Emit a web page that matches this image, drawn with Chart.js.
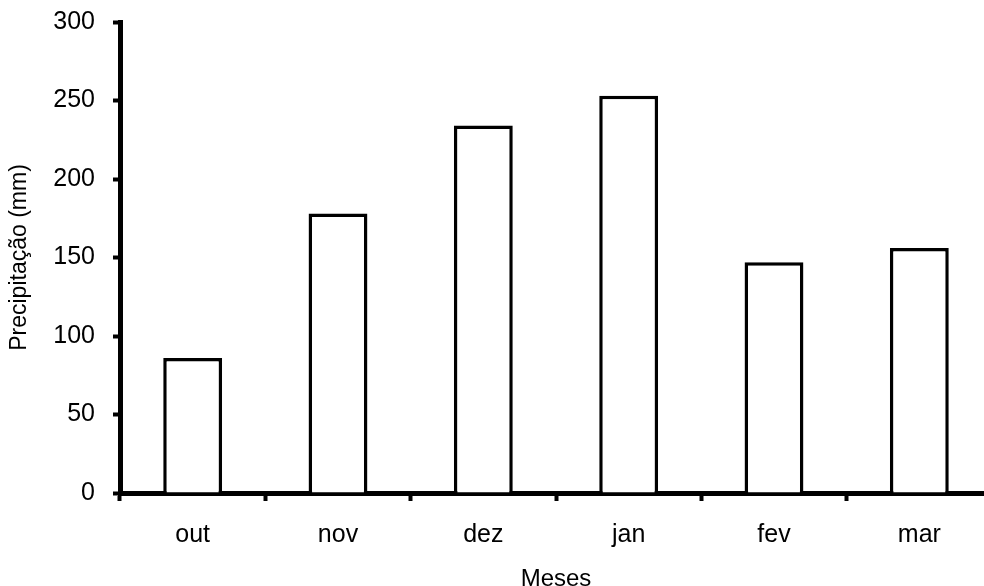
<!DOCTYPE html>
<html>
<head>
<meta charset="utf-8">
<script src="https://cdn.jsdelivr.net/npm/chart.js@4/dist/chart.umd.min.js"></script>
<style>
  html, body { margin: 0; padding: 0; background: #fff; overflow: hidden; width: 984px; height: 586px; }
  #wrap { width: 992px; height: 586px; }
</style>
</head>
<body>
<div id="wrap"><canvas id="c" width="992" height="586"></canvas></div>
<script>
const categories = ['out', 'nov', 'dez', 'jan', 'fev', 'mar'];
const precipitation = [86, 178, 234, 253, 147, 156];
const yTicks = [0, 50, 100, 150, 200, 250, 300];
const yTitle = 'Precipitação (mm)';
const xTitle = 'Meses';

const FONT = "'Liberation Sans', Arial, Helvetica, sans-serif";

new Chart(document.getElementById('c'), {
  type: 'bar',
  data: {
    labels: categories,
    datasets: [{
      data: precipitation,
      backgroundColor: '#ffffff',
      borderColor: '#000000',
      borderWidth: 3.5,
      barPercentage: 0.405,
      categoryPercentage: 1.0
    }]
  },
  options: {
    responsive: false,
    animation: false,
    layout: { padding: { top: 22, right: 0, bottom: 0, left: 0 } },
    plugins: { legend: { display: false }, tooltip: { enabled: false } },
    scales: {
      x: {
        afterFit: s => { s.height = 93; s.paddingLeft = 0; s.paddingRight = 0; },
        grid: { display: true, drawOnChartArea: false, drawTicks: true, tickLength: 8, tickWidth: 4, tickColor: '#000', offset: true },
        border: { display: true, color: '#000', width: 5 },
        ticks: { color: '#000', font: { family: FONT, size: 25 }, padding: 19 },
        title: { display: true, text: xTitle, color: '#000', font: { family: FONT, size: 24, lineHeight: 1.0 }, padding: { top: 0, bottom: -5 } }
      },
      y: {
        min: 0, max: 300,
        afterFit: s => { s.width = 120; s.paddingTop = 0; s.paddingBottom = 0; },
        afterBuildTicks: s => { s.ticks = yTicks.map(v => ({ value: v })); },
        grid: { display: true, drawOnChartArea: false, drawTicks: true, tickLength: 7, tickWidth: 4, tickColor: '#000' },
        border: { display: true, color: '#000', width: 5 },
        ticks: { color: '#000', font: { family: FONT, size: 25 }, padding: 18 },
        title: { display: true, text: yTitle, color: '#000', font: { family: FONT, size: 23 }, padding: { top: 6, bottom: 0 } }
      }
    }
  }
});
</script>
</body>
</html>
